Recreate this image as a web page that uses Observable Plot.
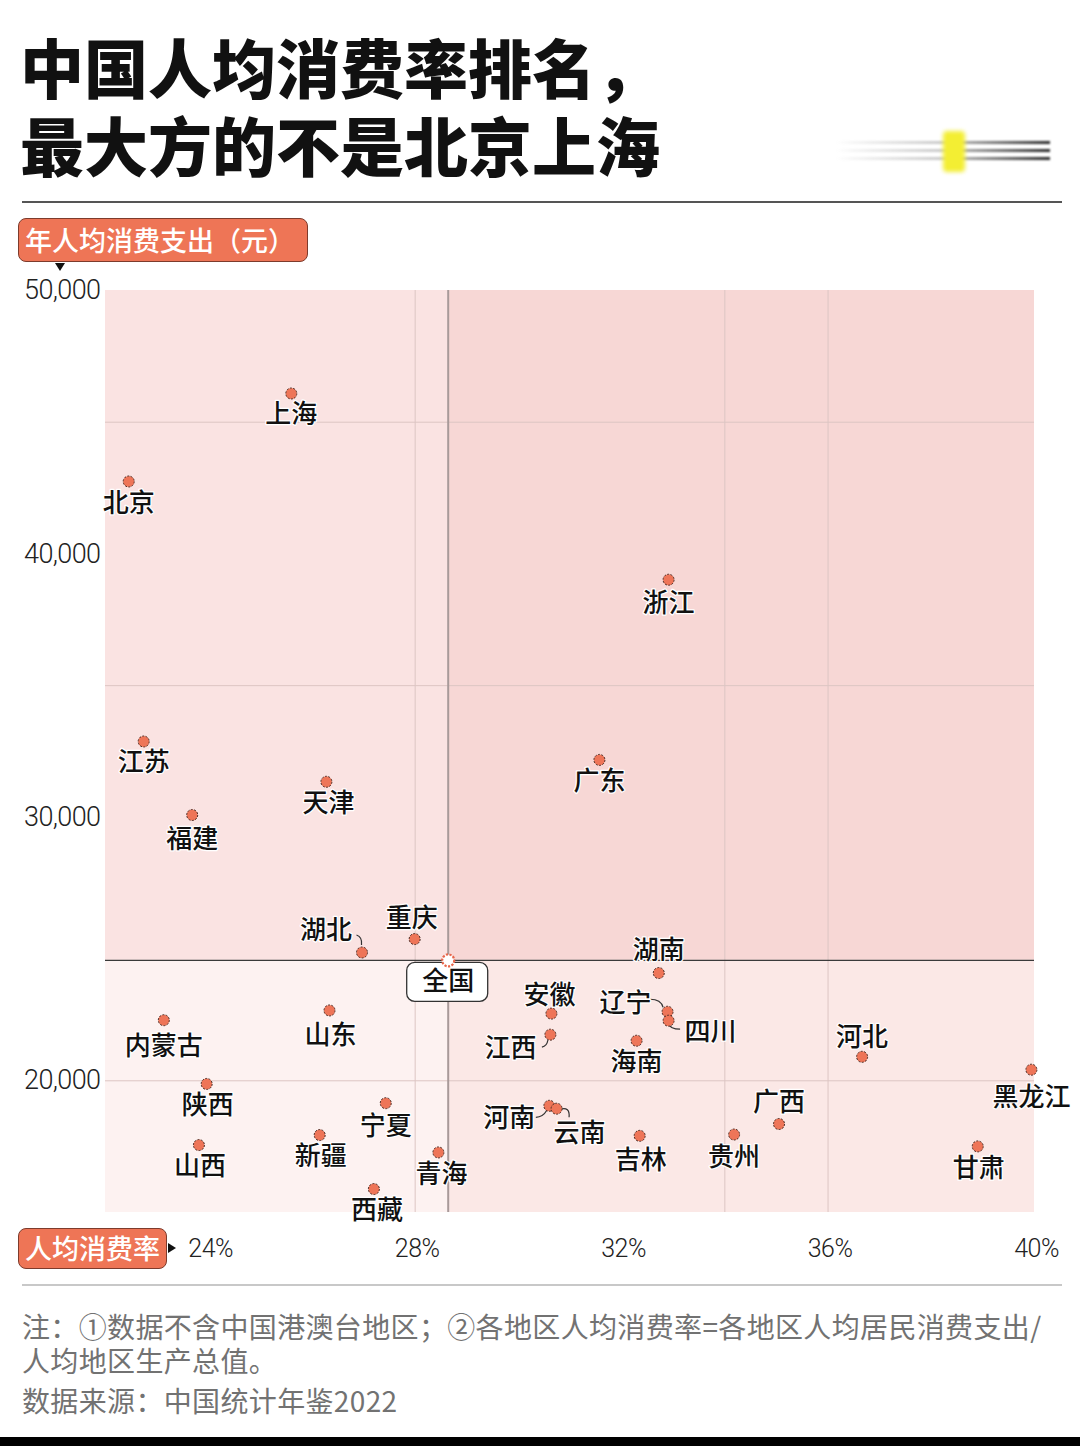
<!DOCTYPE html>
<html>
<head>
<meta charset="utf-8">
<script src="https://cdn.jsdelivr.net/npm/d3@7"></script>
<script src="https://cdn.jsdelivr.net/npm/@observablehq/plot@0.6"></script>
<style>
  html, body { margin: 0; padding: 0; background: #fff; }
  #page { position: relative; width: 1080px; height: 1446px; overflow: hidden; background: #fff;
          font-family: "Noto Sans CJK SC", "Noto Sans", sans-serif; }
  .title { position: absolute; left: 20px; font-size: 64px; line-height: 64px; font-weight: 900; color: #111; letter-spacing: 0px; white-space: nowrap; }
  .rule1 { position: absolute; left: 22px; width: 1040px; top: 201px; height: 2px; background: #555; }
  .rule2 { position: absolute; left: 22px; width: 1040px; top: 1284px; height: 2px; background: #c8c8c8; }
  .tag { position: absolute; background: #ee7556; color: #fff; border: 1.5px solid #7d3b2c; border-radius: 8px;
         font-size: 27px; font-weight: 500; line-height: 40px; padding: 0 6px; box-sizing: border-box; white-space: nowrap; z-index: 3; }
  .ylab { left: 18px; top: 218px; height: 44px; width: 290px; line-height: 41px; }
  .xlab { left: 18px; top: 1228px; height: 41px; width: 149px; line-height: 38px; }
  .tri-down { position: absolute; left: 55px; top: 263px; width: 0; height: 0; border-left: 5px solid transparent; border-right: 5px solid transparent; border-top: 8px solid #111; z-index: 3; }
  .tri-right { position: absolute; left: 168px; top: 1243px; width: 0; height: 0; border-top: 5px solid transparent; border-bottom: 5px solid transparent; border-left: 8px solid #111; z-index: 3; }
  #chart { position: absolute; left: 0; top: 268px; z-index: 1; }
  #chart svg g[aria-label="y-axis tick label"] text { letter-spacing: -0.6px; }
  #chart svg g[aria-label="x-axis tick label"] text { letter-spacing: -0.5px; }
  .foot { position: absolute; left: 22px; font-size: 28px; line-height: 30px; letter-spacing: 0.35px; color: #727272; font-weight: 400; white-space: nowrap; z-index: 3; }
  .deco { position: absolute; left: 835px; top: 128px; width: 220px; height: 48px; z-index: 3; }
  .deco .ln { position: absolute; left: 0; width: 215px; height: 3px; background: linear-gradient(to right, rgba(0,0,0,0), rgba(120,120,120,0.4) 50%, rgba(20,20,20,0.9)); filter: blur(1px); }
  .deco .hl { position: absolute; left: 108px; top: 3px; width: 22px; height: 41px; background: #f3ee33; filter: blur(2px); border-radius: 4px; }
  .blackbar { position: absolute; left: 0; top: 1437px; width: 1080px; height: 9px; background: #000; }
</style>
</head>
<body>
<div id="page">
  <div class="title" style="top:33px">中国人均消费率排名，</div>
  <div class="title" style="top:111px">最大方的不是北京上海</div>
  <div class="deco">
    <div class="ln" style="top:13px"></div>
    <div class="ln" style="top:21px"></div>
    <div class="ln" style="top:29px"></div>
    <div class="hl"></div>
  </div>
  <div class="rule1"></div>
  <div id="chart"></div>
  <div class="tag ylab">年人均消费支出（元）</div>
  <div class="tri-down"></div>
  <div class="tag xlab">人均消费率</div>
  <div class="tri-right"></div>
  <div class="rule2"></div>
  <div class="foot" style="top:1311px">注：①数据不含中国港澳台地区；②各地区人均消费率=各地区人均居民消费支出/</div>
  <div class="foot" style="top:1345px">人均地区生产总值。</div>
  <div class="foot" style="top:1385px">数据来源：中国统计年鉴2022</div>
  <div class="blackbar"></div>
</div>
<script>
// ---------------- data ----------------
const provinces = ["上海","北京","浙江","江苏","广东","天津","福建","湖北","重庆","湖南","安徽","辽宁","四川","江西","海南","内蒙古","山东","河北","黑龙江","陕西","宁夏","河南","云南","广西","贵州","吉林","新疆","山西","青海","甘肃","西藏"];
// 人均消费率 (%)
const consumptionRate = [25.60,22.45,32.91,22.74,31.57,26.28,23.68,26.97,27.99,32.72,30.64,32.89,32.91,30.62,32.29,23.13,26.34,36.66,39.94,23.96,27.43,30.60,30.74,35.05,34.18,32.35,26.15,23.81,28.45,38.90,27.20];
// 年人均消费支出 (元)
const consumptionPerCapita = [46090,42750,39020,32880,32180,31350,30090,24870,25380,24090,22550,22620,22280,21750,21520,22300,22670,20910,20420,19880,19150,19050,18940,18360,17960,17910,17940,17560,17280,17510,15890];
const nationalLabel = "全国";
const nationalRate = 28.64;
const nationalSpend = 24570;
const xTicks = [24, 28, 32, 36, 40];
const yTicks = [20000, 30000, 40000, 50000];
const gridX = [28, 34, 36];
const gridY = [20000, 35000, 45000];
const xDomain = [22, 40];
const yDomain = [15000, 50000];

// ---------------- layout (label placement offsets in px) ----------------
const labelOffset = {
  "上海":[0,21],"北京":[0,22],"浙江":[0,24],"江苏":[0,21],"广东":[0,22],"天津":[2,22],"福建":[0,25],
  "湖北":[-36,-22],"重庆":[-3,-20],"湖南":[0,-22],"安徽":[-2,-18],"辽宁":[-42,-8],"四川":[42,12],
  "江西":[-40,14],"海南":[0,22],"内蒙古":[0,26],"山东":[1,25],"河北":[0,-19],"黑龙江":[0,28],
  "陕西":[1,22],"宁夏":[0,23],"河南":[-40,13],"云南":[23,25],"广西":[0,-21],"贵州":[0,23],
  "吉林":[1,25],"新疆":[1,22],"山西":[1,22],"青海":[3,22],"甘肃":[1,22],"西藏":[3,22]
};
const leaderLines = {
  "湖北":[[-5,-17],[0,-7],[1,-15]],
  "辽宁":[[-17,-12],[-4,-4],[-6,-12]],
  "四川":[[0,3],[12,9],[2,9]],
  "江西":[[-2,6],[-8,13],[-3,12]],
  "河南":[[-13,12],[-2,5],[-6,12]],
  "云南":[[4,1],[13,9],[14,-2]]
};

const data = provinces.map((name, i) => ({name, rate: consumptionRate[i], spend: consumptionPerCapita[i]}));
const nat = {name: nationalLabel, rate: nationalRate, spend: nationalSpend};
const cjk = "Noto Sans CJK SC, Noto Sans, sans-serif";

const quad = (x1, x2, y1, y2, fill) =>
  Plot.rect([{x1, x2, y1, y2}], {x1: "x1", x2: "x2", y1: "y1", y2: "y2", fill});

const leaderMark = (index, scales) => {
  const g = d3.create("svg:g").attr("fill", "none").attr("stroke", "#333").attr("stroke-width", 1.2);
  for (const d of data) {
    const l = leaderLines[d.name];
    if (!l) continue;
    const px = scales.x(d.rate), py = scales.y(d.spend);
    const [a, b, c] = l;
    g.append("path").attr("d", `M${px + a[0]},${py + a[1]} Q${px + c[0]},${py + c[1]} ${px + b[0]},${py + b[1]}`);
  }
  return g.node();
};

const natBoxMark = (index, scales) => {
  const cx = scales.x(nat.rate), cy = scales.y(nat.spend);
  const g = d3.create("svg:g");
  g.append("rect").attr("x", cx - 41).attr("y", cy + 2.5).attr("width", 81).attr("height", 39)
    .attr("rx", 8).attr("fill", "#fff").attr("stroke", "#333").attr("stroke-width", 1.3);
  return g.node();
};

const plot = Plot.plot({
  width: 1080,
  height: 1000,
  marginLeft: 105,
  marginRight: 46,
  marginTop: 22,
  marginBottom: 56,
  style: {background: "transparent", overflow: "visible", fontFamily: cjk},
  x: {domain: xDomain},
  y: {domain: yDomain},
  marks: [
    quad(xDomain[0], nat.rate, nat.spend, yDomain[1], "#fae3e2"),
    quad(nat.rate, xDomain[1], nat.spend, yDomain[1], "#f7d7d5"),
    quad(xDomain[0], nat.rate, yDomain[0], nat.spend, "#fdf2f1"),
    quad(nat.rate, xDomain[1], yDomain[0], nat.spend, "#fbe8e6"),
    Plot.ruleY(gridY, {stroke: "#dcc5c3", strokeWidth: 1}),
    Plot.ruleX(gridX, {stroke: "#dcc5c3", strokeWidth: 1}),
    Plot.ruleX([nat.rate], {stroke: "#a89a99", strokeWidth: 2}),
    Plot.ruleY([nat.spend], {stroke: "#3a3a3a", strokeWidth: 1.3}),
    Plot.axisX(xTicks, {tickFormat: d => d + "%", tickSize: 0, tickPadding: 27, fontSize: 25, fontFamily: "Roboto", fontWeight: 300, fill: "#222", label: null, dx: 2}),
    Plot.axisY(yTicks, {tickFormat: d3.format(","), tickSize: 0, tickPadding: 5, fontSize: 27, fontFamily: "Roboto", fontWeight: 300, fill: "#222", label: null}),
    leaderMark,
    Plot.dot(data, {x: "rate", y: "spend", r: 5.5, fill: "#ee7558", stroke: "#4a2a22", strokeWidth: 1, strokeDasharray: "2,1.4"}),
    natBoxMark,
    Plot.dot([nat], {x: "rate", y: "spend", r: 6, fill: "#fff", stroke: "#e8664a", strokeWidth: 2.2, strokeDasharray: "2.2,1.4"}),
    Plot.text([nat], {x: "rate", y: "spend", text: "name", dy: 21, fontSize: 26, fontWeight: 500, fill: "#111", fontFamily: cjk}),
    ...data.map(d => {
      const [dx, dy] = labelOffset[d.name] || [0, 22];
      return Plot.text([d], {x: "rate", y: "spend", text: "name", dx, dy, fontSize: 26, fontWeight: 500,
        fill: "#111", stroke: "#fff", strokeWidth: 2.5, fontFamily: cjk});
    })
  ]
});
document.getElementById("chart").appendChild(plot);
</script>
</body>
</html>
